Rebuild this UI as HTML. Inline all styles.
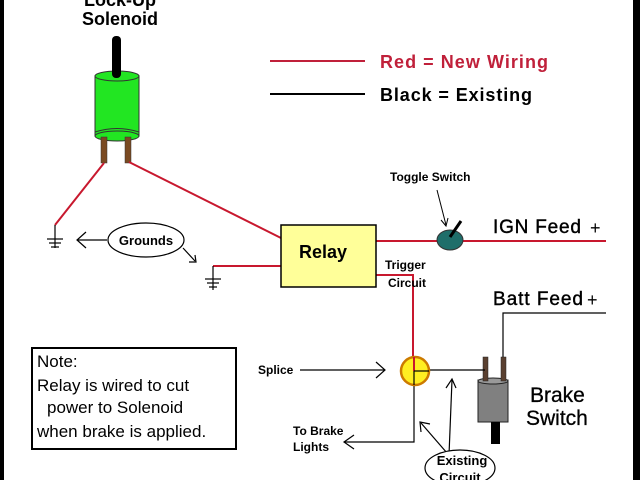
<!DOCTYPE html>
<html><head><style>
html,body{margin:0;padding:0;background:#fff;}
svg{display:block;}
text{font-family:"Liberation Sans",Arial,sans-serif;}
</style></head><body>
<svg width="640" height="480" viewBox="0 0 640 480" xmlns="http://www.w3.org/2000/svg">
<rect x="0" y="0" width="640" height="480" fill="#fff"/>
<rect x="0" y="0" width="4" height="480" fill="#000"/>
<rect x="633" y="0" width="7" height="480" fill="#000"/>

<!-- title -->
<text x="120" y="6" font-size="18" font-weight="bold" text-anchor="middle">Lock-Up</text>
<text x="120" y="25" font-size="18" font-weight="bold" text-anchor="middle">Solenoid</text>

<!-- solenoid -->
<rect x="95" y="76" width="44" height="60" fill="#22e622" stroke="#333" stroke-width="1"/>
<ellipse cx="117" cy="76" rx="22" ry="5" fill="#22e622" stroke="#333"/>
<path d="M95 132 Q117 125 139 132" fill="none" stroke="#333"/>
<ellipse cx="117" cy="136" rx="22" ry="5" fill="#22e622" stroke="#333"/>
<rect x="112" y="36" width="9" height="42" rx="4" fill="#000"/>
<rect x="101" y="137" width="6" height="26" fill="#7a4a22" stroke="#333" stroke-width="0.5"/>
<rect x="125" y="137" width="6" height="26" fill="#7a4a22" stroke="#333" stroke-width="0.5"/>

<!-- legend -->
<line x1="270" y1="61" x2="365" y2="61" stroke="#c0203a" stroke-width="2"/>
<text x="380" y="68" font-size="18" font-weight="bold" fill="#c0203a" textLength="168">Red = New Wiring</text>
<line x1="270" y1="94" x2="365" y2="94" stroke="#000" stroke-width="2"/>
<text x="380" y="101" font-size="18" font-weight="bold" fill="#000" textLength="152">Black = Existing</text>

<!-- red wires -->
<g stroke="#c8182e" stroke-width="2" fill="none">
<polyline points="104,163 55,225"/>
<polyline points="129,162 281,238"/>
<polyline points="213,266 281,266"/>
<polyline points="376,241 440,241"/>
<polyline points="460,241 606,241"/>
<polyline points="376,275 413,275 413,365"/>
</g>

<!-- grounds -->
<g stroke="#000" stroke-width="1.2" fill="none">
<line x1="55" y1="225" x2="55" y2="248"/>
<line x1="47" y1="239" x2="63" y2="239"/>
<line x1="49" y1="243" x2="61" y2="243"/>
<line x1="51" y1="247" x2="59" y2="247"/>
<line x1="213" y1="266" x2="213" y2="290"/>
<line x1="205" y1="279" x2="221" y2="279"/>
<line x1="207" y1="283" x2="219" y2="283"/>
<line x1="209" y1="287" x2="217" y2="287"/>
<line x1="107" y1="240" x2="77" y2="240"/>
<polyline points="86,232 77,240 86,248"/>
<path d="M183 248 L195 261"/>
<polyline points="189,262 196,262 195,255"/>
</g>
<ellipse cx="146" cy="240" rx="38" ry="17" fill="#fff" stroke="#000" stroke-width="1.2"/>
<text x="146" y="245" font-size="13" font-weight="bold" text-anchor="middle">Grounds</text>

<!-- relay -->
<rect x="281" y="225" width="95" height="62" fill="#ffff99" stroke="#000" stroke-width="1.5"/>
<text x="323" y="258" font-size="18" font-weight="bold" text-anchor="middle">Relay</text>
<text x="385" y="269" font-size="12" font-weight="bold">Trigger</text>
<text x="388" y="287" font-size="12" font-weight="bold">Circuit</text>

<!-- toggle -->
<text x="390" y="181" font-size="12" font-weight="bold">Toggle Switch</text>
<g stroke="#000" stroke-width="1" fill="none">
<path d="M437 190 L446 225"/>
<polyline points="441,220 446,226 448,218"/>
</g>
<ellipse cx="450" cy="240" rx="13" ry="10" fill="#1f6e6a" stroke="#333"/>
<line x1="450" y1="237" x2="461" y2="221" stroke="#000" stroke-width="3"/>
<text x="493" y="233" font-size="19" stroke="#000" stroke-width="0.4" textLength="88">IGN Feed</text>
<text x="590" y="234" font-size="18">+</text>

<!-- batt -->
<text x="493" y="305" font-size="19" stroke="#000" stroke-width="0.4" textLength="90">Batt Feed</text>
<text x="587" y="306" font-size="18">+</text>
<polyline points="503,368 503,313 606,313" stroke="#000" stroke-width="1.2" fill="none"/>

<!-- brake switch -->
<rect x="478" y="380" width="30" height="42" fill="#808080" stroke="#222"/>
<ellipse cx="493" cy="381" rx="15" ry="3" fill="#999" stroke="#222"/>
<rect x="483" y="357" width="5" height="24" fill="#5a4030" stroke="#222" stroke-width="0.5"/>
<rect x="501" y="357" width="5" height="24" fill="#5a4030" stroke="#222" stroke-width="0.5"/>
<rect x="491" y="422" width="9" height="22" fill="#000"/>
<text x="530" y="402" font-size="21" stroke="#000" stroke-width="0.3">Brake</text>
<text x="526" y="425" font-size="21" stroke="#000" stroke-width="0.3">Switch</text>

<!-- splice and existing -->
<g stroke="#000" stroke-width="1.2" fill="none">
<line x1="415" y1="370" x2="485" y2="370"/>
<polyline points="414,371 414,442 345,442"/>
<polyline points="354,435 344,442 354,449"/>
<line x1="300" y1="370" x2="384" y2="370"/>
<polyline points="376,362 385,370 376,378"/>
<line x1="449" y1="455" x2="452" y2="380"/>
<polyline points="446,388 452,379 456,388"/>
<line x1="447" y1="453" x2="421" y2="423"/>
<polyline points="421,432 420,422 430,424"/>
</g>
<circle cx="415" cy="371" r="14" fill="#ffee22" stroke="#cc7a00" stroke-width="2.5"/>
<line x1="414" y1="357" x2="414" y2="371" stroke="#c8182e" stroke-width="2"/>
<line x1="414" y1="371" x2="429" y2="371" stroke="#000" stroke-width="1.2"/>
<line x1="414" y1="371" x2="414" y2="385" stroke="#000" stroke-width="1.2"/>
<text x="258" y="374" font-size="12" font-weight="bold">Splice</text>
<text x="293" y="435" font-size="12" font-weight="bold">To Brake</text>
<text x="293" y="451" font-size="12" font-weight="bold">Lights</text>
<ellipse cx="460" cy="468" rx="35" ry="18" fill="#fff" stroke="#000" stroke-width="1.2"/>
<text x="462" y="465" font-size="13" font-weight="bold" text-anchor="middle">Existing</text>
<text x="460" y="482" font-size="13" font-weight="bold" text-anchor="middle">Circuit</text>

<!-- note -->
<rect x="32" y="348" width="204" height="101" fill="#fff" stroke="#000" stroke-width="2"/>
<text x="37" y="367" font-size="17">Note:</text>
<text x="37" y="391" font-size="17">Relay is wired to cut</text>
<text x="47" y="413" font-size="17">power to Solenoid</text>
<text x="37" y="437" font-size="17">when brake is applied.</text>
</svg>
</body></html>
